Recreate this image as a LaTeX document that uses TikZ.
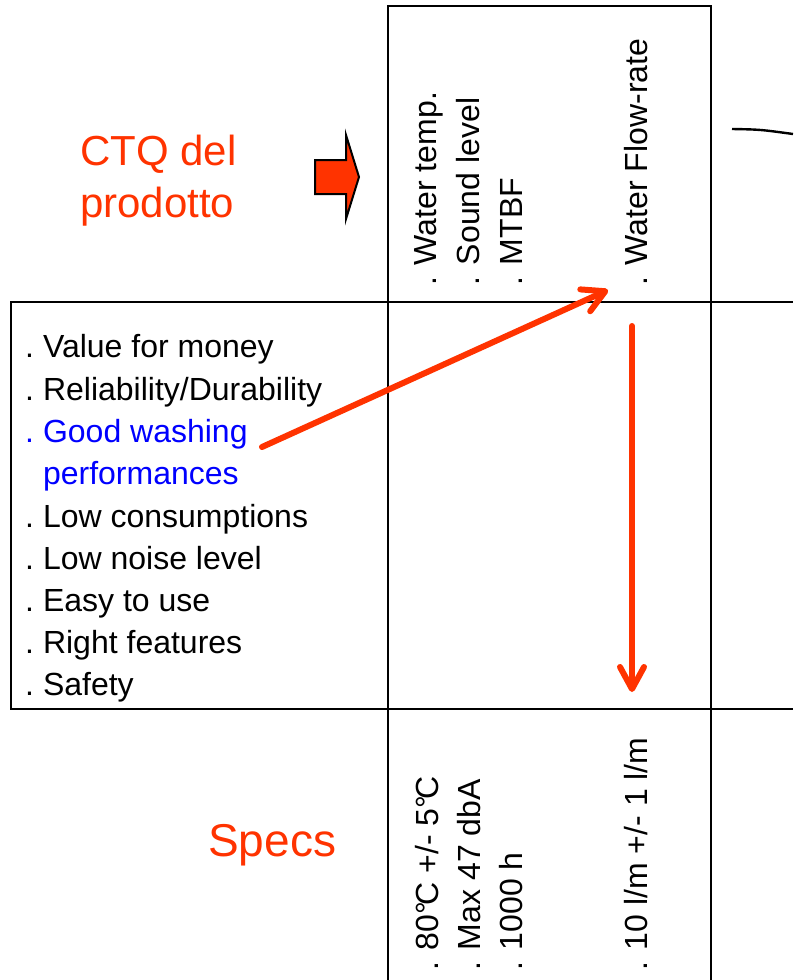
\documentclass[tikz,border=0pt]{standalone}
\usepackage{fontspec}
\setmainfont{Liberation Sans}
\usetikzlibrary{arrows.meta}
\definecolor{ctqred}{RGB}{255,51,0}
\definecolor{wishblue}{RGB}{0,0,255}
\newcommand{\bul}{.\kern0.28em}

\begin{document}
\begin{tikzpicture}[x=1pt,y=1pt,
  grid/.style={line width=2.2pt},
  listtext/.style={anchor=base west, inner sep=0pt, font=\fontsize{32}{38}\selectfont},
  vtext/.style={anchor=base west, inner sep=0pt, rotate=90, font=\fontsize{32}{38}\selectfont},
  heading/.style={anchor=base west, inner sep=0pt, text=ctqred},
  flow/.style={draw=ctqred, line width=6pt, line cap=round,
    -{Straight Barb[length=22pt,width=24pt,round]}}
]
\useasboundingbox (0,0) rectangle (793,-980);

% house grid
\draw[grid] (388,-980) -- (388,-6) -- (711,-6) -- (711,-980);
\draw[grid] (10,-302) -- (793,-302);
\draw[grid] (10,-709) -- (793,-709);
\draw[grid] (11,-302) -- (11,-709);
\draw[line width=2.4pt] (732,-129) .. controls (760,-129.5) .. (793,-134);

% headings
\node[heading, font=\fontsize{42}{48}\selectfont] (ctq1) at (80,-165) {CTQ del};
\node[heading, font=\fontsize{42}{48}\selectfont] (ctq2) at (80,-217) {prodotto};
\node[heading, font=\fontsize{46}{52}\selectfont] (specs) at (208,-856) {Specs};

% block arrow pointing at the CTQ column
\draw[line width=2pt, fill=ctqred, line join=miter]
  (315,-160) -- (346,-160) -- (346,-135) -- (359,-177) -- (346,-219)
  -- (346,-194) -- (315,-194) -- cycle;

% customer wishes
\node[listtext] (w1) at (25,-357) {\bul Value for money};
\node[listtext] (w2) at (25,-400) {\bul Reliability/Durability};
\node[listtext, text=wishblue] (w3) at (25,-442) {\bul Good washing};
\node[listtext, text=wishblue] (w3b) at (25,-484) {\phantom{\bul}performances};
\node[listtext] (w4) at (25,-527) {\bul Low consumptions};
\node[listtext] (w5) at (25,-569) {\bul Low noise level};
\node[listtext] (w6) at (25,-611) {\bul Easy to use};
\node[listtext] (w7) at (25,-653) {\bul Right features};
\node[listtext] (w8) at (25,-695) {\bul Safety};

% product CTQs
\node[vtext] (c1) at (436,-286) {. Water temp.};
\node[vtext] (c2) at (479,-286) {. Sound level};
\node[vtext] (c3) at (522,-286) {. MTBF};
\node[vtext] (c4) at (647,-286) {. Water Flow-rate};

% specifications
\node[vtext] (s1) at (438,-971) {. 80°\kern-0.12em C +/- 5°\kern-0.12em C};
\node[vtext] (s2) at (480,-971) {. Max 47 dbA};
\node[vtext] (s3) at (522,-971) {. 1000 h};
\node[vtext] (s4) at (647,-971) {. 10 l/m +/- 1 l/m};

% links
\coordinate (wishEnd) at (262,-447);
\coordinate (flowTip) at (608,-290);
\coordinate (flowTop) at (632,-326);
\coordinate (specTip) at (632,-692);
\draw[flow] (wishEnd) -- (flowTip);
\draw[flow] (flowTop) -- (specTip);
\end{tikzpicture}
\end{document}
